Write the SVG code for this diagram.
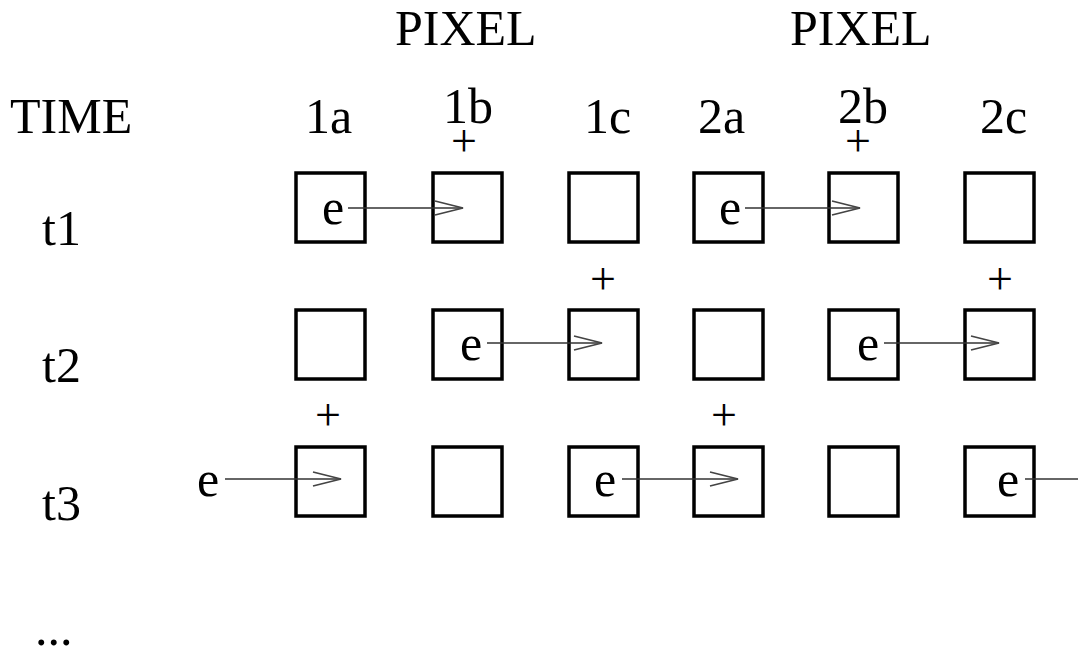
<svg xmlns="http://www.w3.org/2000/svg" width="1078" height="656" viewBox="0 0 1078 656">
<style>
text{font-family:"Liberation Serif","Times New Roman",serif;font-size:50px;fill:#000}
.pl{font-size:46px}
.box{fill:none;stroke:#000;stroke-width:3.5}
.arr{fill:none;stroke:#333;stroke-width:1.5}
</style>
<defs>
<marker id="ah" markerUnits="userSpaceOnUse" markerWidth="34" markerHeight="20" refX="30" refY="10" orient="auto">
<path d="M2,3 L30,10 L2,17" fill="none" stroke="#444" stroke-width="1.8"/>
</marker>
</defs>
<rect width="1078" height="656" fill="#fff"/>
<g id="headers">
<text x="395" y="45">PIXEL</text>
<text x="790" y="45">PIXEL</text>
<text x="10" y="133">TIME</text>
<text x="305" y="133">1a</text>
<text x="443" y="123">1b</text>
<text x="584" y="133">1c</text>
<text x="698" y="133">2a</text>
<text x="838" y="123">2b</text>
<text x="980" y="133">2c</text>
<text x="42" y="245">t1</text>
<text x="42" y="382">t2</text>
<text x="42" y="520">t3</text>
<text x="35" y="645">...</text>
</g>
<g id="plus">
<text class="pl" x="464" y="156" text-anchor="middle">+</text>
<text class="pl" x="858" y="156" text-anchor="middle">+</text>
<text class="pl" x="603" y="294" text-anchor="middle">+</text>
<text class="pl" x="1000" y="294" text-anchor="middle">+</text>
<text class="pl" x="328" y="430" text-anchor="middle">+</text>
<text class="pl" x="724" y="430" text-anchor="middle">+</text>
</g>
<g id="row1">
<rect id="r1-1a" class="box" x="296" y="173" width="69" height="69"/>
<rect id="r1-1b" class="box" x="433" y="173" width="69" height="69"/>
<rect id="r1-1c" class="box" x="569" y="173" width="69" height="69"/>
<rect id="r1-2a" class="box" x="694" y="173" width="69" height="69"/>
<rect id="r1-2b" class="box" x="829" y="173" width="69" height="69"/>
<rect id="r1-2c" class="box" x="965" y="173" width="69" height="69"/>
<text x="333" y="224" text-anchor="middle">e</text>
<text x="730" y="224" text-anchor="middle">e</text>
</g>
<g id="row2">
<rect id="r2-1a" class="box" x="296" y="310" width="69" height="69"/>
<rect id="r2-1b" class="box" x="433" y="310" width="69" height="69"/>
<rect id="r2-1c" class="box" x="569" y="310" width="69" height="69"/>
<rect id="r2-2a" class="box" x="694" y="310" width="69" height="69"/>
<rect id="r2-2b" class="box" x="829" y="310" width="69" height="69"/>
<rect id="r2-2c" class="box" x="965" y="310" width="69" height="69"/>
<text x="471" y="360" text-anchor="middle">e</text>
<text x="868" y="360" text-anchor="middle">e</text>
</g>
<g id="row3">
<rect id="r3-1a" class="box" x="296" y="447" width="69" height="69"/>
<rect id="r3-1b" class="box" x="433" y="447" width="69" height="69"/>
<rect id="r3-1c" class="box" x="569" y="447" width="69" height="69"/>
<rect id="r3-2a" class="box" x="694" y="447" width="69" height="69"/>
<rect id="r3-2b" class="box" x="829" y="447" width="69" height="69"/>
<rect id="r3-2c" class="box" x="965" y="447" width="69" height="69"/>
<text x="208" y="496" text-anchor="middle">e</text>
<text x="605" y="496" text-anchor="middle">e</text>
<text x="1008" y="496" text-anchor="middle">e</text>
</g>
<g id="connectors">
<line class="arr" x1="348" y1="208" x2="463" y2="208" marker-end="url(#ah)"/>
<line class="arr" x1="745" y1="208" x2="860" y2="208" marker-end="url(#ah)"/>
<line class="arr" x1="487" y1="343" x2="602" y2="343" marker-end="url(#ah)"/>
<line class="arr" x1="884" y1="343" x2="999" y2="343" marker-end="url(#ah)"/>
<line class="arr" x1="225" y1="479" x2="341" y2="479" marker-end="url(#ah)"/>
<line class="arr" x1="622" y1="479" x2="738" y2="479" marker-end="url(#ah)"/>
<line class="arr" x1="1025" y1="479" x2="1078" y2="479"/>
</g>
</svg>
